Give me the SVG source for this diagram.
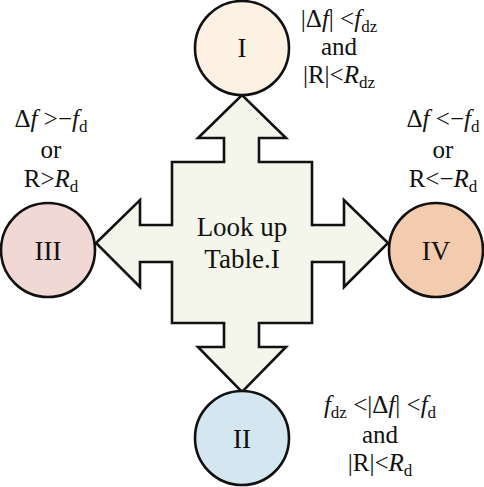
<svg xmlns="http://www.w3.org/2000/svg" width="484" height="487" viewBox="0 0 484 487">
<style>
  text { font-family: "Liberation Serif", "Times New Roman", serif; fill: #111; }
  .num { font-size: 27px; text-anchor: middle; }
  .cond { font-size: 25px; text-anchor: middle; }
  .it { font-style: italic; }
  .sub { font-size: 17px; }
  .ol { stroke: #111; stroke-width: 2.6; }
  .shape { fill: #F4F6EC; }
  .edge { fill: none; stroke: #111; stroke-width: 2.6; stroke-linecap: square; stroke-linejoin: miter; }
  .arrow { fill: #F4F6EC; stroke: #111; stroke-width: 2.6; stroke-linecap: square; stroke-linejoin: miter; }
</style>
<rect width="484" height="487" fill="#ffffff"/>

<g id="connectors">
  <path class="arrow" d="M224,162 L224,138 L198,138 L242,95 L286,138 L259,138 L259,162"/>
  <path class="arrow" d="M312,225 L344,225 L344,200 L388,243 L344,287 L344,262 L312,262"/>
  <path class="arrow" d="M259,323 L259,347 L286,347 L242,392 L198,347 L224,347 L224,323"/>
  <path class="arrow" d="M172,262 L140,262 L140,287 L96,243 L140,200 L140,225 L172,225"/>
</g>

<g id="lookup">
  <rect class="shape" x="172" y="162" width="140" height="161"/>
  <path class="edge" d="M224,162 L172,162 L172,225 M172,262 L172,323 L224,323 M259,323 L312,323 L312,262 M312,225 L312,162 L259,162"/>
  <text class="num" x="242" y="236">Look up</text>
  <text class="num" x="242" y="268">Table.I</text>
</g>

<g id="node-I">
  <circle class="ol" cx="242" cy="48" r="47" fill="#FCF1E3"/>
  <text class="num" x="242" y="57">I</text>
  <text class="cond" x="339" y="27">|Δ<tspan class="it">f</tspan>| &lt;<tspan class="it">f</tspan><tspan class="sub" dy="5">dz</tspan></text>
  <text class="cond" x="339" y="55">and</text>
  <text class="cond" x="339" y="83">|R|&lt;<tspan class="it">R</tspan><tspan class="sub" dy="5">dz</tspan></text>
</g>

<g id="node-II">
  <circle class="ol" cx="242" cy="438" r="47" fill="#D4E7F0"/>
  <text class="num" x="242" y="448">II</text>
  <text class="cond" x="380" y="413"><tspan class="it">f</tspan><tspan class="sub" dy="5">dz</tspan><tspan dy="-5"> &lt;|Δ</tspan><tspan class="it">f</tspan>| &lt;<tspan class="it">f</tspan><tspan class="sub" dy="5">d</tspan></text>
  <text class="cond" x="380" y="443">and</text>
  <text class="cond" x="380" y="471">|R|&lt;<tspan class="it">R</tspan><tspan class="sub" dy="5">d</tspan></text>
</g>

<g id="node-III">
  <circle class="ol" cx="48" cy="250" r="47" fill="#F2D8D5"/>
  <text class="num" x="48" y="260">III</text>
  <text class="cond" x="51" y="127">Δ<tspan class="it">f</tspan> &gt;−<tspan class="it">f</tspan><tspan class="sub" dy="5">d</tspan></text>
  <text class="cond" x="51" y="158">or</text>
  <text class="cond" x="51" y="187">R&gt;<tspan class="it">R</tspan><tspan class="sub" dy="5">d</tspan></text>
</g>

<g id="node-IV">
  <circle class="ol" cx="436" cy="250" r="47" fill="#F3CBAE"/>
  <text class="num" x="436" y="260">IV</text>
  <text class="cond" x="443" y="127">Δ<tspan class="it">f</tspan> &lt;−<tspan class="it">f</tspan><tspan class="sub" dy="5">d</tspan></text>
  <text class="cond" x="443" y="158">or</text>
  <text class="cond" x="443" y="187">R&lt;−<tspan class="it">R</tspan><tspan class="sub" dy="5">d</tspan></text>
</g>
</svg>
